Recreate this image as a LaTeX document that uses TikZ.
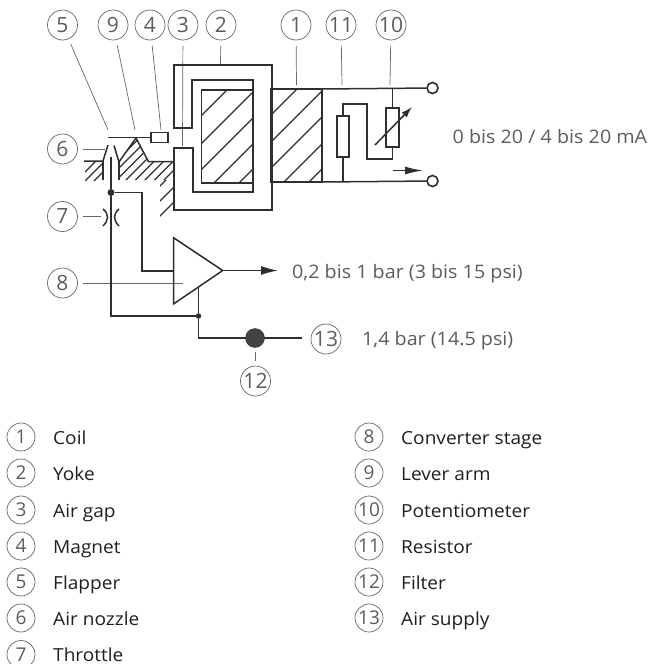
\documentclass[tikz,border=0pt]{standalone}
\usepackage{fontspec}
\setmainfont{Open Sans}
\newfontfamily\widefont[FakeStretch=1.06]{Open Sans}
\usetikzlibrary{arrows.meta}
\definecolor{inkline}{gray}{.18}
\definecolor{inktext}{gray}{.36}
\definecolor{leadline}{gray}{.40}
\tikzset{
pipe/.style={draw=inkline,line width=1.5pt},
hatchline/.style={draw=inkline,line width=1.2pt},
leader/.style={draw=leadline,line width=.7pt,shorten <=5.5pt},
numc/.style={draw=leadline,circle,line width=.7pt,minimum size=30pt,inner sep=0pt,
  text=inktext,font=\fontsize{21}{21}\selectfont},
numl/.style={numc,minimum size=28pt,font=\fontsize{19}{19}\selectfont},
legend/.style={anchor=base west,inner sep=0pt,text=black!88,font=\widefont\fontsize{18}{20}\selectfont},
value/.style={anchor=base west,inner sep=0pt,text=inktext,font=\widefont\fontsize{18.6}{20}\selectfont},
jdot/.style={circle,fill=inkline,inner sep=0pt,minimum size=#1},
term/.style={circle,draw=inkline,fill=white,line width=1.6pt,inner sep=0pt,minimum size=11pt},
}
\begin{document}
\begin{tikzpicture}[x=1pt,y=-1pt]
\useasboundingbox (0,0) rectangle (655,664);
% callouts
\foreach \n/\x/\y in {5/62.5/25,9/113/25,4/150/25,3/183/25,2/221/25,1/296/25,11/341/25,10/391/25,
  6/62.5/149,7/62.5/216.5,8/62.5/283,12/255.5/381,13/326/339}{
\node[numc] (C\n) at (\x,\y) {\n};
}
\coordinate (L5) at (108,130);
\coordinate (L9) at (135,130);
\coordinate (L4) at (161,130);
\coordinate (L3) at (182.5,146);
\coordinate (L2) at (220.5,64);
\coordinate (L1) at (296.5,85);
\coordinate (L11) at (342,85);
\coordinate (L10) at (390,85);
\coordinate (L6) at (105,149);
\coordinate (L7) at (101,216.5);
\coordinate (L8) at (183,283);
\coordinate (L12) at (255.5,361);
\coordinate (F12) at (255.5,352);
\foreach \n in {5,9,4,3,2,1,11,10,6,7,8}{
\draw[leader] (C\n) -- (L\n);
}
\draw[leader,shorten <=0pt] (F12) -- (L12);
% hatching
\begin{scope}
\clip (201,90) rectangle (253,183);
\foreach \s in {317,345,371,397,422}{
\draw[hatchline] (190,\s-190) -- (270,\s-270);
}
\end{scope}
\begin{scope}
\clip (271,89) rectangle (322,182);
\foreach \s in {386,413,439,466,491}{
\draw[hatchline] (260,\s-260) -- (335,\s-335);
}
\end{scope}
\begin{scope}
\clip (119,180) -- (119,162) -- (136,138) -- (148,162) -- (173,162) -- (173,180) -- cycle;
\foreach \s in {268,277.5,287,296.5,306,315.5,325,334.5,344}{
\draw[hatchline] (100,\s-100) -- (190,\s-190);
}
\end{scope}
\begin{scope}
\clip (160,180) rectangle (173,216);
\foreach \s in {346,361,376}{
\draw[hatchline] (150,\s-150) -- (180,\s-180);
}
\end{scope}
\begin{scope}
\clip (85,162) rectangle (103,180);
\foreach \s in {257,266,275}{
\draw[hatchline] (70,\s-70) -- (120,\s-120);
}
\end{scope}
% yoke and coil
\draw[pipe] (174,65) -- (272,65) -- (272,210) -- (174,210) -- (174,148) -- (193,148) -- (193,192)
  -- (253,192) -- (253,80) -- (192,80) -- (192,128) -- (174,128) -- cycle;
\draw[pipe] (201.5,90) rectangle (253,183);
\draw[pipe] (271,89) rectangle (322,182);
% nozzle and lever
\node[draw=inkline,fill=white,line width=1.5pt,minimum width=17pt,minimum height=10pt,inner sep=0pt] (magnet) at (159.7,137.7) {};
\draw[pipe] (108,137.7) -- (magnet.west);
\draw[pipe] (108,145) -- (103,161) -- (84,161);
\draw[pipe] (103,161) -- (103,180);
\draw[pipe] (114,145.5) -- (119,162) -- (136,138) -- (148.5,161.7) -- (173,161.7);
\draw[pipe] (119,162) -- (119,180);
\draw[pipe] (173.5,161.7) -- (173.5,210);
% throttle
\draw[pipe] (103,209) .. controls (109,214) and (109,220) .. (103,226);
\draw[pipe] (119,209) .. controls (113,214) and (113,220) .. (119,226);
% amplifier
\node[jdot=7pt] (J1) at (111,192.5) {};
\node[jdot=5.5pt] (J2) at (198.5,316) {};
\coordinate (A1) at (173.5,237.7);
\coordinate (A2) at (173.5,304);
\coordinate (A3) at (222.7,270.5);
\draw[pipe] (A1) -- (A3) -- (A2) -- cycle;
\draw[pipe] (111,157) -- (J1) -- (111,316) -- (J2);
\draw[pipe] (J1) -- (142,192.5) -- (142,271) -- (173.5,271);
\coordinate (S13) at (301.5,338);
\draw[pipe] (198.5,287) -- (J2) -- (198.5,338) -- (S13);
\draw[pipe,-{Latex[length=17pt,width=9pt]}] (A3) -- (278,270.5);
\node[circle,fill=inkline!90,draw=inkline,inner sep=0pt,minimum size=19pt] (filter) at (255,338) {};
% electrical side
\node[term] (T1) at (432.5,88) {};
\node[term] (T2) at (432.5,181) {};
\draw[pipe] (322,89) -- (T1);
\draw[pipe] (322,182) -- (T2);
\node[draw=inkline,line width=1.5pt,minimum width=12pt,minimum height=41pt,inner sep=0pt] (res) at (343,136.5) {};
\node[draw=inkline,line width=1.5pt,minimum width=13pt,minimum height=39pt,inner sep=0pt] (pot) at (392.5,127.5) {};
\draw[pipe] (res.north) -- (343,104) -- (367,104) -- (367,159) -- (392.5,159) -- (pot.south);
\draw[pipe] (res.south) -- (343,182);
\draw[pipe] (pot.north) -- (392.5,89);
\draw[pipe,-{Latex[length=11pt,width=7pt]}] (375,145) -- (412,107);
\draw[pipe,-{Latex[length=18pt,width=8pt]}] (393,170.5) -- (423,170.5);
% values
\node[value] (V1) at (452.5,143.5) {0 bis 20 / 4 bis 20 mA};
\node[value] (V2) at (292,278) {0,2 bis 1 bar (3 bis 15 psi)};
\node[value] (V3) at (362,345) {1,4 bar (14.5 psi)};
% legend
\foreach \n/\y/\t in {1/437/Coil,2/473/Yoke,3/510/Air gap,4/546/Magnet,5/582/Flapper,6/618/Air nozzle,7/654.5/Throttle}{
\node[numl] (LC\n) at (21,\y) {\n};
\node[legend] (LT\n) at (53,\y+7) {\t};
}
\foreach \n/\y/\t in {8/437/Converter stage,9/473/Lever arm,10/510/Potentiometer,11/546/Resistor,12/582/Filter,13/618/Air supply}{
\node[numl] (LC\n) at (369,\y) {\n};
\node[legend] (LT\n) at (401,\y+7) {\t};
}
\end{tikzpicture}
\end{document}
